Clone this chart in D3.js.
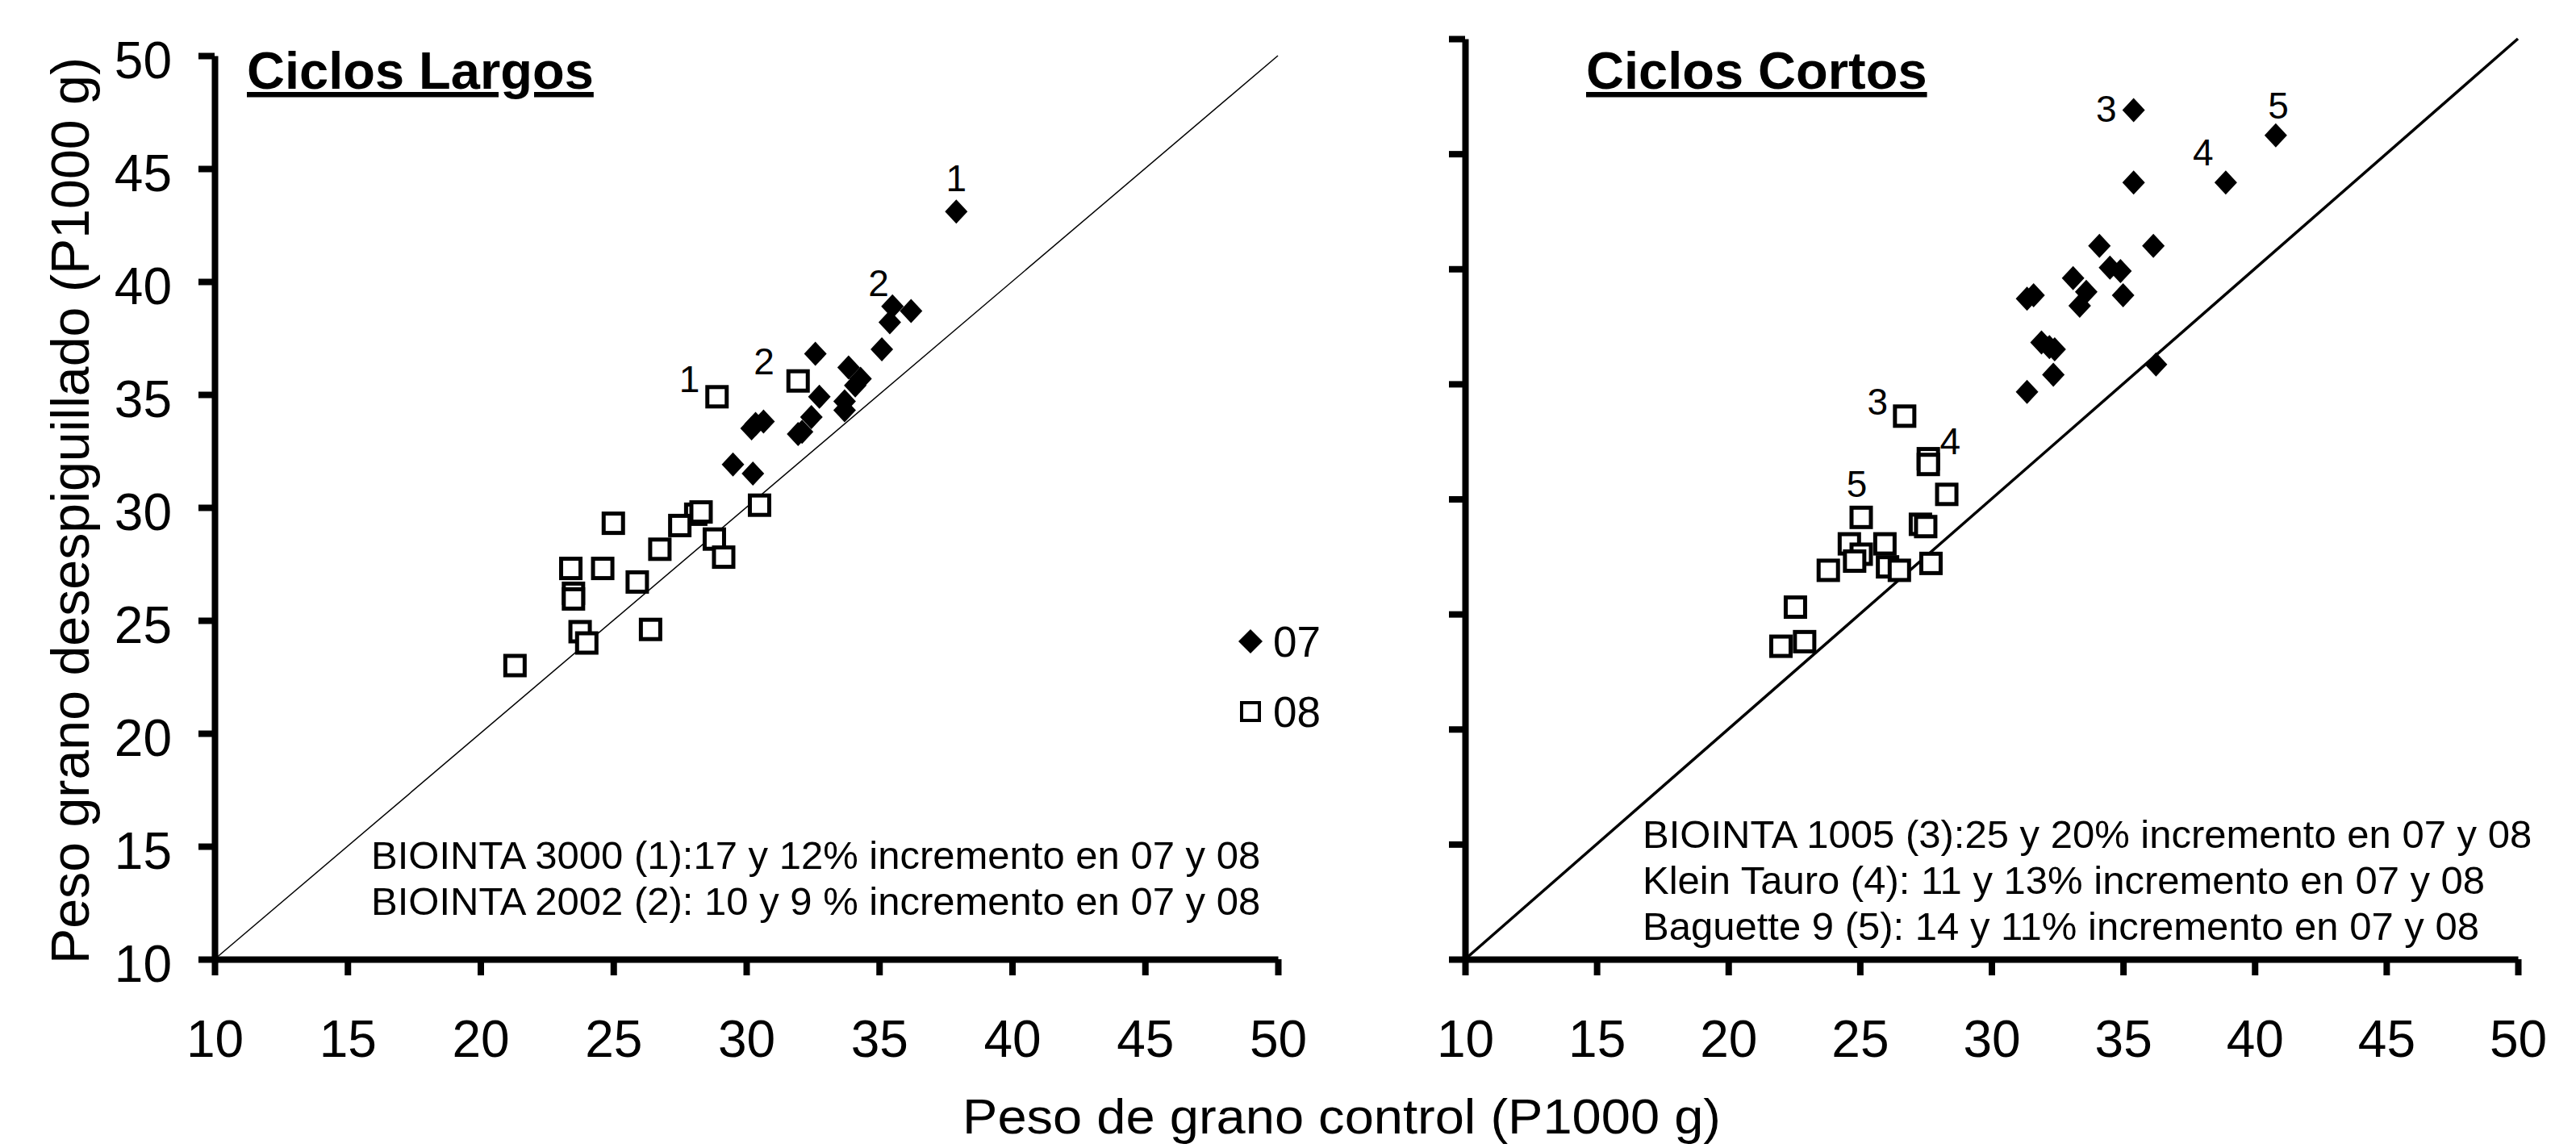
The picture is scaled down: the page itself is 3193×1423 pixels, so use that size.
<!DOCTYPE html>
<html>
<head>
<meta charset="utf-8">
<script src="https://cdn.jsdelivr.net/npm/d3@7"></script>
<style>
  body { margin: 0; background: #fff; }
  svg { display: block; font-family: "Liberation Sans", Arial, sans-serif; }
  .axis path, .axis line { stroke: #000; stroke-width: 8; }
  .axis text { font-size: 64px; fill: #000; }
</style>
</head>
<body>
<svg width="3193" height="1423"></svg>
<script>
// ---- data (P1000 g): [control, desespiguillado] ----
var largos07 = [[37.9,43.1],[35.5,38.9],[36.2,38.7],[35.4,38.2],[32.6,36.8],[33.85,36.2],[35.1,37.0],
    [34.3,35.7],[34.1,35.4],[32.75,34.9],[33.7,34.7],[33.7,34.3],[30.35,33.7],[30.65,33.8],[30.2,33.5],
    [32.45,34.0],[32.1,33.35],[31.95,33.25],[29.5,31.9],[30.25,31.5]];
var largos08 = [[28.9,34.9],[31.95,35.6],[30.5,30.1],[28.1,29.7],[28.3,29.8],[27.5,29.2],[25.0,29.3],
    [26.75,28.15],[28.8,28.6],[29.15,27.8],[23.4,27.3],[24.6,27.3],[25.9,26.7],[23.5,26.2],[23.5,25.95],
    [23.75,24.5],[24.0,24.0],[26.4,24.6],[21.3,23.0]];
var cortos07 = [[35.4,46.9],[40.8,45.8],[38.9,43.75],[35.4,43.75],[34.1,41.0],[36.15,41.0],[34.5,40.05],
    [34.9,39.9],[33.1,39.6],[33.6,39.0],[33.35,38.4],[35.0,38.85],[31.35,38.7],[31.6,38.85],[31.9,36.8],
    [32.2,36.6],[32.4,36.5],[32.35,35.4],[31.35,34.65],[36.25,35.85]];
var cortos08 = [[26.7,33.6],[27.6,31.75],[27.6,31.5],[28.3,30.2],[25.05,29.2],[27.3,28.9],[27.5,28.8],
    [24.6,28.05],[25.95,28.05],[25.05,27.6],[24.8,27.3],[26.05,27.05],[26.5,26.9],[27.7,27.2],[23.8,26.9],
    [22.55,25.3],[22.0,23.6],[22.9,23.8]];

// cultivar number labels, placed in data units
var largosLabels = [["1",37.9,44.6],["2",34.98,39.96],["1",27.86,35.7],["2",30.67,36.5]];
var cortosLabels = [["3",34.36,46.98],["5",40.9,47.1],["4",38.04,45.06],["3",25.67,34.26],["4",28.43,32.54],["5",24.88,30.68]];

var largosNotes = ["BIOINTA 3000 (1):17 y 12% incremento en 07 y 08",
                   "BIOINTA 2002 (2): 10 y 9 % incremento en 07 y 08"];
var cortosNotes = ["BIOINTA 1005 (3):25 y 20% incremento en 07 y 08",
                   "Klein Tauro (4): 11 y 13% incremento en 07 y 08",
                   "Baguette 9 (5): 14 y 11% incremento en 07 y 08"];

var domain = [10, 50];
var ticks = [10, 15, 20, 25, 30, 35, 40, 45, 50];
var years = ["07", "08"];

var svg = d3.select("svg");
svg.append("rect").attr("width", 3193).attr("height", 1423).attr("fill", "#fff");

function drawPanel(cfg) {
    var x = d3.scaleLinear().domain(domain).range([cfg.x0, cfg.x1]);
    var y = d3.scaleLinear().domain(domain).range([cfg.y0, cfg.y1]);
    var g = svg.append("g");

    // 1:1 line
    g.append("line")
        .attr("x1", x(10)).attr("y1", y(10))
        .attr("x2", x(50)).attr("y2", y(50))
        .attr("stroke", "#000")
        .attr("stroke-width", cfg.lineW);

    g.append("g").attr("class", "axis")
        .attr("transform", "translate(0," + cfg.y0 + ")")
        .call(d3.axisBottom(x).tickValues(ticks).tickSize(20).tickSizeOuter(0).tickPadding(56))
        .call(a => a.selectAll("text").attr("dy", "0.71em"));

    g.append("g").attr("class", "axis")
        .attr("transform", "translate(" + cfg.x0 + ",0)")
        .call(d3.axisLeft(y).tickValues(ticks).tickSize(20).tickSizeOuter(0).tickPadding(33)
            .tickFormat(cfg.yLabels ? d3.format("d") : ""))
        .call(a => a.selectAll("text").attr("dy", "0.43em"));

    // 08: open squares
    g.selectAll(".sq").data(cfg.d08).enter().append("rect")
        .attr("x", d => x(d[0]) - 12).attr("y", d => y(d[1]) - 12)
        .attr("width", 24).attr("height", 24)
        .attr("fill", "#fff").attr("stroke", "#000").attr("stroke-width", 5);

    // 07: filled diamonds
    g.selectAll(".dm").data(cfg.d07).enter().append("path")
        .attr("d", "M0,-15L14,0L0,15L-14,0Z")
        .attr("transform", d => "translate(" + x(d[0]) + "," + y(d[1]) + ")")
        .attr("fill", "#000");

    g.selectAll(".lab").data(cfg.labels).enter().append("text")
        .attr("x", d => x(d[1])).attr("y", d => y(d[2]))
        .attr("dy", "0.36em")
        .attr("text-anchor", "middle")
        .style("font-size", "46px")
        .text(d => d[0]);

    g.append("text")
        .attr("x", cfg.titleX).attr("y", 110)
        .style("font-size", "65px").style("font-weight", "bold")
        .style("text-decoration", "underline")
        .text(cfg.title);

    g.selectAll(".note").data(cfg.notes).enter().append("text")
        .attr("x", cfg.noteX).attr("y", (d, i) => cfg.noteY + i * 57)
        .style("font-size", "49px")
        .text(d => d);
}

drawPanel({x0: 266, x1: 1584, y0: 1189, y1: 69, lineW: 1.5, yLabels: true,
    d07: largos07, d08: largos08, labels: largosLabels,
    title: "Ciclos Largos", titleX: 306, notes: largosNotes, noteX: 460, noteY: 1077});

drawPanel({x0: 1816, x1: 3121, y0: 1189, y1: 48, lineW: 3.5, yLabels: false,
    d07: cortos07, d08: cortos08, labels: cortosLabels,
    title: "Ciclos Cortos", titleX: 1966, notes: cortosNotes, noteX: 2036, noteY: 1051});

// legend
var legend = svg.append("g").selectAll("g").data(years).enter().append("g")
    .attr("transform", (d, i) => "translate(1550," + (795 + i * 87) + ")");
legend.filter(d => d == "07").append("path")
    .attr("d", "M0,-15L15,0L0,15L-15,0Z").attr("fill", "#000");
legend.filter(d => d == "08").append("rect")
    .attr("x", -11).attr("y", -11).attr("width", 22).attr("height", 22)
    .attr("fill", "#fff").attr("stroke", "#000").attr("stroke-width", 4);
legend.append("text")
    .attr("x", 28).attr("dy", "0.35em")
    .style("font-size", "53px")
    .text(d => d);

// axis titles
svg.append("text")
    .attr("transform", "translate(110,633) rotate(-90)")
    .attr("text-anchor", "middle")
    .attr("textLength", 1124).attr("lengthAdjust", "spacingAndGlyphs")
    .style("font-size", "66px")
    .text("Peso grano desespiguillado (P1000 g)");

svg.append("text")
    .attr("x", 1663).attr("y", 1405)
    .attr("text-anchor", "middle")
    .attr("textLength", 940).attr("lengthAdjust", "spacingAndGlyphs")
    .style("font-size", "62px")
    .text("Peso de grano control (P1000 g)");
</script>
</body>
</html>
